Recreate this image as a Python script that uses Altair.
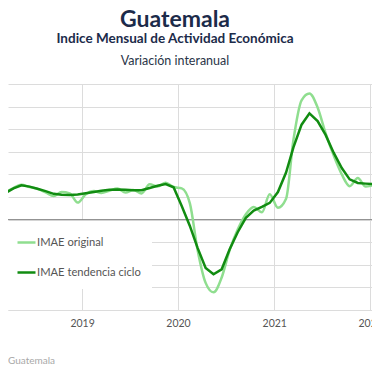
import altair as alt
import pandas as pd

# ---- data (monthly, year-on-year %, mid-month) ----
months = pd.date_range("2018-02-01", "2022-02-01", freq="MS").strftime("%Y-%m-15").tolist()

imae_original = [
    2.3, 3.0, 3.5, 3.85, 3.6, 3.4, 3.0, 2.6, 3.05, 2.9, 1.88,          # 2018-02..2018-12
    2.8, 3.16, 2.95, 3.2, 3.43, 3.0, 3.27, 2.9, 3.9, 3.65, 4.09, 3.6,  # 2019
    3.45, 1.8, -3.3, -7.0, -8.05, -6.4, -3.4, -1.1, 0.6, 1.4, 0.8, 2.8, # 2020
    1.3, 2.3, 8.8, 13.2, 13.95, 12.4, 9.6, 7.1, 5.0, 3.7, 4.6, 3.65,    # 2021
    3.8, 3.9,                                                          # 2022
]
imae_tendencia = [
    2.3, 2.95, 3.45, 3.8, 3.65, 3.42, 3.15, 2.85, 2.75, 2.72, 2.78,
    2.92, 3.05, 3.18, 3.3, 3.33, 3.29, 3.26, 3.24, 3.5, 3.75, 3.94, 3.57,
    1.5, -0.7, -3.1, -5.35, -6.05, -5.5, -3.3, -1.4, 0.2, 1.0, 1.4, 1.85,
    3.05, 5.2, 8.0, 10.5, 11.76, 10.9, 9.4, 7.4, 5.7, 4.45, 4.05, 3.98,
    3.92, 3.9,
]
series_names = ["IMAE original", "IMAE tendencia ciclo"]
series_colors = ["#8fde8f", "#118c11"]
y_ticks = [-10, -7.5, -5, -2.5, 0, 2.5, 5, 7.5, 10, 12.5, 15]
year_ticks = [2019, 2020, 2021, 2022]

title_text = "Guatemala"
subtitle_text = "Indice Mensual de  Actividad Económica"
subtitle2_text = "Variación interanual"
source_text = "Guatemala"

df = pd.DataFrame({
    "fecha": months * 2,
    "valor": imae_original + imae_tendencia,
    "serie": [series_names[0]] * len(months) + [series_names[1]] * len(months),
    "orden": [0] * len(months) + [1] * len(months),
})

FONT = "Lato"
NAVY = "#1c2b4a"

x_scale = alt.Scale(domain=[alt.DateTime(year=2018, month=3, date=25, utc=True),
                            alt.DateTime(year=2022, month=1, date=8, utc=True)])
y_scale = alt.Scale(domain=[-10, 15], nice=False)
y_axis = alt.Axis(values=y_ticks, labels=False, ticks=False, domain=False,
                  grid=True, gridColor="#dcdcdc")

enc = dict(
    x=alt.X("fecha:T", scale=x_scale, title=None,
            axis=alt.Axis(values=[alt.DateTime(year=y, month=1, date=1, utc=True) for y in year_ticks],
                          format="%Y", grid=True, gridColor="#dcdcdc", ticks=False,
                          domainColor="#dcdcdc", labelColor="#555555", labelFont=FONT,
                          labelFontSize=10.5, labelPadding=8)),
    y=alt.Y("valor:Q", scale=y_scale, title=None, axis=y_axis),
    color=alt.Color("serie:N",
                    scale=alt.Scale(domain=series_names, range=series_colors),
                    legend=alt.Legend(title=None, orient="none", legendX=-3, legendY=137,
                                      fillColor="white", padding=11, symbolType="stroke",
                                      symbolSize=324, symbolStrokeWidth=2.5,
                                      labelFont=FONT, labelFontSize=11.2, labelColor="#555555",
                                      labelOffset=0, rowPadding=14)),
)

zero = alt.Chart(pd.DataFrame({"v": [0]})).mark_rule(color="#888888", strokeWidth=1).encode(
    y=alt.Y("v:Q", scale=y_scale, title=None, axis=y_axis))
orig = alt.Chart(df[df["orden"] == 0]).mark_line(
    clip=True, strokeWidth=2.5, interpolate="monotone").encode(**enc)
trend = alt.Chart(df[df["orden"] == 1]).mark_line(
    clip=True, strokeWidth=2.5, interpolate="linear").encode(**enc)


def label(text, size, weight, color, y):
    return alt.Chart(pd.DataFrame({"t": [text]})).mark_text(
        font=FONT, fontSize=size, fontWeight=weight, color=color,
        align="center", baseline="alphabetic").encode(
        text="t:N", x=alt.value(167), y=alt.value(y))


t1 = label(title_text, 23, "bold", NAVY, -57)
t2 = label(subtitle_text, 13.5, "bold", NAVY, -41)
t3 = label(subtitle2_text, 12.5, "normal", "#2a3548", -19)
src = alt.Chart(pd.DataFrame({"t": [source_text]})).mark_text(
    font=FONT, fontSize=10, color="#a8a8a8", align="left", baseline="alphabetic").encode(
    text="t:N", x=alt.value(0), y=alt.value(280))

chart = alt.layer(zero, orig, trend, t1, t2, t3, src).properties(
    width=364, height=226,
    autosize=alt.AutoSizeParams(type="none"),
    padding={"left": 0, "top": 76, "right": 0, "bottom": 56},
).configure_view(stroke=None)

chart.save("out.html", embed_options={"renderer": "svg", "actions": False})
